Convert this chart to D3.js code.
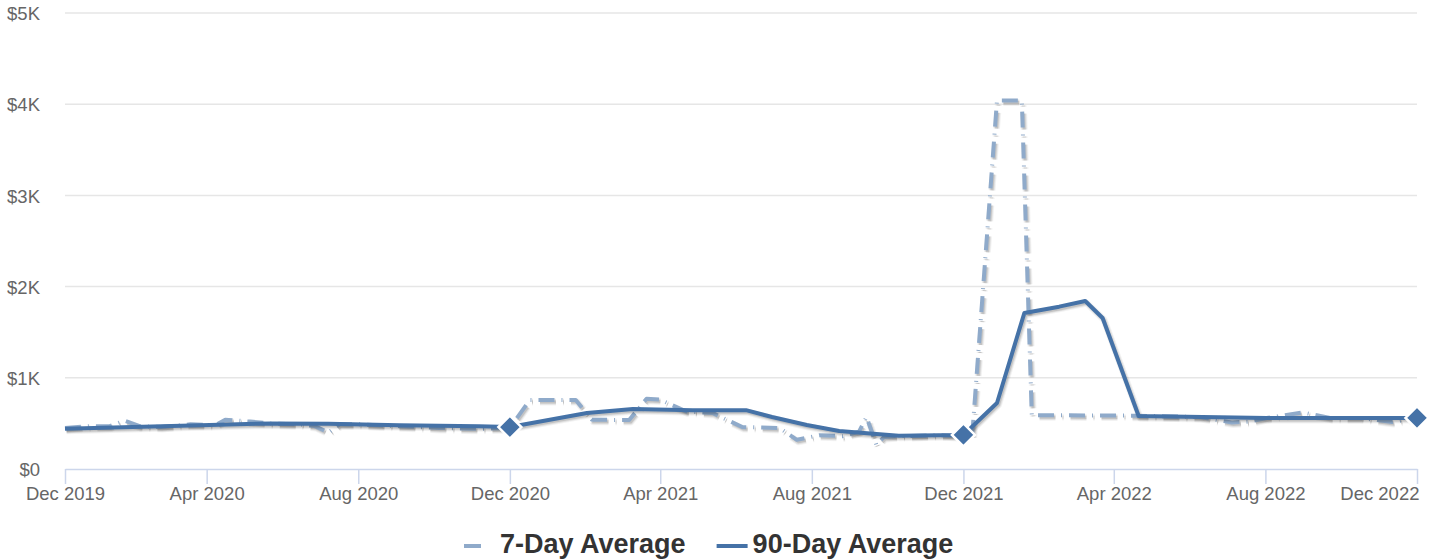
<!DOCTYPE html>
<html>
<head>
<meta charset="utf-8">
<script src="https://cdn.jsdelivr.net/npm/d3@7"></script>
<style>
  body { margin: 0; background: #ffffff; }
  svg { display: block; font-family: "Liberation Sans", Arial, sans-serif; }
</style>
</head>
<body>
<svg id="chart" width="1432" height="560"></svg>
<script>
// ---- data ---------------------------------------------------------------
const sevenDayDates = [
  "2019-12-09","2019-12-29","2020-01-14","2020-01-26","2020-02-07","2020-02-24",
  "2020-03-19","2020-04-08","2020-04-16","2020-05-06","2020-05-22","2020-06-15",
  "2020-06-27","2020-07-08","2020-07-17","2020-08-02","2020-09-03","2020-10-05",
  "2020-11-06","2020-12-01","2020-12-17","2021-01-23","2021-02-05","2021-03-07",
  "2021-03-21","2021-04-01","2021-04-22","2021-05-13","2021-06-06","2021-07-06",
  "2021-07-20","2021-08-07","2021-08-26","2021-09-08","2021-09-14","2021-09-22",
  "2021-09-28","2021-10-10","2021-11-11","2021-12-01","2021-12-08","2021-12-28",
  "2022-01-17","2022-01-25","2022-04-19","2022-06-09","2022-07-05","2022-07-19",
  "2022-08-02","2022-08-31","2022-09-22","2022-10-16","2022-11-11","2022-12-01"
];
const sevenDayValues = [
  450, 470, 470, 530, 470, 460,
  490, 480, 540, 520, 500, 490,
  470, 400, 490, 490, 470, 450,
  440, 450, 757, 757, 540, 537,
  770, 760, 630, 615, 460, 450,
  320, 370, 360, 410, 570, 265,
  350, 360, 370, 360, 360, 4040,
  4040, 590, 585, 570, 510, 520,
  560, 620, 560, 560, 515, 560
];

const ninetyDayDates = [
  "2019-12-09","2020-03-27","2020-05-22","2020-07-08","2020-09-03","2020-11-06",
  "2020-12-01","2021-02-01","2021-03-10","2021-04-27","2021-06-09","2021-06-30",
  "2021-07-28","2021-08-23","2021-09-22","2021-10-10","2021-11-11","2021-12-01",
  "2021-12-28","2022-01-19","2022-02-16","2022-03-09","2022-03-23","2022-04-21",
  "2022-08-02","2022-12-01"
];
const ninetyDayValues = [
  440, 480, 500, 495, 480, 470,
  460, 614, 658, 645, 645, 570,
  482, 417, 384, 365, 370, 373,
  724, 1710, 1780, 1842, 1656, 581,
  560, 560
];

const markerDates = ["2020-12-01", "2021-12-01", "2022-12-01"];
const xTickDates = ["2019-12-09","2020-04-01","2020-08-01","2020-12-01","2021-04-01",
                    "2021-08-01","2021-12-01","2022-04-01","2022-08-01","2022-12-01"];
const yTickValues = [0, 1000, 2000, 3000, 4000, 5000];
const seriesNames = ["7-Day Average", "90-Day Average"];
const seriesColors = ["#8faaca", "#4572a7"];

// ---- layout -------------------------------------------------------------
const plot = { left: 65, right: 1417, top: 13, bottom: 469 };

const parse = d3.utcParse("%Y-%m-%d");
const svg = d3.select("#chart");

const x = d3.scaleUtc()
  .domain([parse(xTickDates[0]), parse(xTickDates[xTickDates.length - 1])])
  .range([plot.left, plot.right]);
const y = d3.scaleLinear().domain([0, 5000]).range([plot.bottom, plot.top]);

const sevenDay = sevenDayDates.map((d, i) => ({ date: parse(d), value: sevenDayValues[i] }));
const ninetyDay = ninetyDayDates.map((d, i) => ({ date: parse(d), value: ninetyDayValues[i] }));

// ---- grid & y axis labels ----------------------------------------------
svg.append("g").selectAll("line")
  .data(yTickValues.filter(v => v > 0))
  .join("line")
  .attr("x1", plot.left).attr("x2", plot.right)
  .attr("y1", d => y(d)).attr("y2", d => y(d))
  .attr("stroke", "#e6e6e6").attr("stroke-width", 1.5);

const yAxis = d3.axisLeft(y)
  .tickValues(yTickValues)
  .tickSize(0)
  .tickPadding(0)
  .tickFormat(d => d === 0 ? "$0" : "$" + (d / 1000) + "K");
const yG = svg.append("g").attr("transform", "translate(40,0)").call(yAxis);
yG.select(".domain").remove();
yG.selectAll("text")
  .attr("fill", "#666666")
  .style("font-size", "18.5px")
  .attr("dy", "0.36em");

// ---- x axis -------------------------------------------------------------
const xAxis = d3.axisBottom(x)
  .tickValues(xTickDates.map(parse))
  .tickSize(15)
  .tickSizeOuter(0)
  .tickPadding(3)
  .tickFormat(d3.utcFormat("%b %Y"));
const xG = svg.append("g").attr("transform", `translate(0,${plot.bottom})`).call(xAxis);
xG.select(".domain").attr("stroke", "#ccd6eb").attr("stroke-width", 1.5);
xG.selectAll(".tick line").attr("stroke", "#ccd6eb").attr("stroke-width", 1.5);
xG.selectAll("text")
  .attr("fill", "#666666")
  .style("font-size", "18.5px")
  .attr("dy", "0.71em");
// keep the last label inside the plot edge
xG.selectAll(".tick text")
  .filter((d, i, n) => i === n.length - 1)
  .attr("text-anchor", "end")
  .attr("x", 2);

// ---- series -------------------------------------------------------------
const line = d3.line().x(d => x(d.date)).y(d => y(d.value));
const dash7 = "16,7,1,7";

function drawSeries(data, color, dash) {
  const g = svg.append("g");
  // soft drop shadow drawn as offset copies of the path
  [[7, 0.05], [5, 0.08], [3, 0.12]].forEach(([w, o]) => {
    g.append("path")
      .datum(data)
      .attr("d", line)
      .attr("fill", "none")
      .attr("stroke", "#000")
      .attr("stroke-opacity", o)
      .attr("stroke-width", w)
      .attr("stroke-dasharray", dash)
      .attr("stroke-linejoin", "round")
      .attr("transform", "translate(1.5,2)");
  });
  g.append("path")
    .datum(data)
    .attr("d", line)
    .attr("fill", "none")
    .attr("stroke", color)
    .attr("stroke-width", 4)
    .attr("stroke-dasharray", dash)
    .attr("stroke-linejoin", "round");
}

drawSeries(sevenDay, seriesColors[0], dash7);
drawSeries(ninetyDay, seriesColors[1], null);

// diamond markers on the 90-day series
const markerData = markerDates.map(d => ninetyDay.find(p => +p.date === +parse(d)));
svg.append("g").selectAll("path")
  .data(markerData)
  .join("path")
  .attr("transform", d => `translate(${x(d.date)},${y(d.value)})`)
  .attr("d", "M0,-11.5L11.5,0L0,11.5L-11.5,0Z")
  .attr("fill", seriesColors[1])
  .attr("stroke", "#ffffff")
  .attr("stroke-width", 2.5);

// ---- legend -------------------------------------------------------------
const legend = svg.append("g");
let cursor = 0;
seriesNames.forEach((name, i) => {
  const item = legend.append("g").attr("transform", `translate(${cursor},0)`);
  item.append("line")
    .attr("x1", 0).attr("x2", i === 0 ? 17 : 31)
    .attr("y1", 0).attr("y2", 0)
    .attr("stroke", seriesColors[i])
    .attr("stroke-width", 4);
  const t = item.append("text")
    .attr("x", 36).attr("y", 7)
    .attr("fill", "#333333")
    .style("font-size", "27px")
    .style("font-weight", "bold")
    .text(name);
  cursor += 36 + t.node().getComputedTextLength() + 31;
});
const legendWidth = cursor - 31;
legend.attr("transform", `translate(${Math.round(709 - legendWidth / 2)},546)`);
</script>
</body>
</html>
